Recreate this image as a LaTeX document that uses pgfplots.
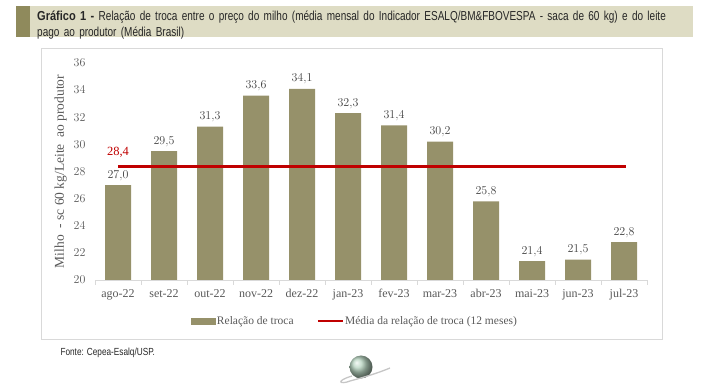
\documentclass[border=0pt]{standalone}
\usepackage{pgfplots}
\pgfplotsset{compat=1.18}
\usepackage{fontspec}
\setmainfont{Liberation Serif}
\newfontfamily\titlefont[FakeStretch=0.77]{Liberation Sans}
\newfontfamily\titlebold[FakeStretch=0.85]{Liberation Sans Bold}
\newfontfamily\footfont[FakeStretch=0.8]{Liberation Sans}
\definecolor{barcol}{HTML}{96916A}
\definecolor{avgred}{HTML}{C00000}
\definecolor{band}{HTML}{DEDCC4}
\definecolor{stripe}{HTML}{8F8A5C}
\definecolor{boxgray}{HTML}{D9D9D9}
\definecolor{txtgray}{HTML}{595959}
\definecolor{globe}{HTML}{B5D2BE}
\begin{document}
\begin{tikzpicture}[x=1pt,y=1pt]
\path[use as bounding box] (0,0) rectangle (706,387);
% title band
\fill[band] (16,350) rectangle (693,381);
\fill[stripe] (16,350) rectangle (30,381);
\node[anchor=north west, align=left, inner sep=0pt, text width=630pt, font=\titlefont\fontsize{13}{16}\selectfont, text=black!85]
  at (37,376) {{\titlebold Gráfico 1 -} Relação de troca entre o preço do milho (média mensal do Indicador ESALQ/BM\&FBOVESPA - saca de 60 kg) e do leite pago ao produtor (Média Brasil)};
% chart box
\draw[boxgray, line width=0.8pt] (41,48) rectangle (662,339);
% footer
\node[anchor=west, font=\footfont\fontsize{10.3}{11}\selectfont, text=black!85] at (57,34) {Fonte: Cepea-Esalq/USP.};
% logo
\shade[ball color=globe] (361,20) circle (11.5);
\draw[gray!45, line width=1.3pt] (352,11) .. controls (335,6) and (340,2) .. (350,6) .. controls (365,10) and (378,14) .. (390,19);
\begin{axis}[
  at={(95pt,107pt)}, anchor=south west,
  scale only axis, width=552pt, height=217pt,
  xmin=-0.5, xmax=11.5, ymin=20, ymax=36,
  ytick={20,22,...,36},
  xtick={0,...,11},
  xticklabels={ago-22,set-22,out-22,nov-22,dez-22,jan-23,fev-23,mar-23,abr-23,mai-23,jun-23,jul-23},
  minor xtick={-0.5,0.5,...,11.5},
  axis x line*=bottom, axis y line*=left,
  x axis line style={draw=boxgray, line width=0.8pt, -},
  y axis line style={draw=none},
  major tick length=0pt, minor tick length=5pt,
  tick align=outside,
  minor tick style={boxgray, line width=0.8pt},
  tick label style={font=\fontsize{12}{14}\selectfont, text=txtgray},
  xticklabel style={yshift=-6pt},
  yticklabel style={xshift=-6pt},
  /pgf/number format/use comma,
  ylabel={Milho \ - sc 60 kg/Leite \ ao produtor},
  ylabel style={font=\fontsize{13.5}{15}\selectfont, text=txtgray},
  legend style={at={(0.470,-0.19)}, anchor=center, legend columns=2, draw=none, fill=none,
    font=\fontsize{11.5}{14}\selectfont, text=txtgray,
    nodes={inner sep=1pt},
    /tikz/every even column/.append style={column sep=22pt}},
  legend cell align=left,
  clip=false,
]
\addplot[ybar, bar width=26pt, fill=barcol, draw=none,
  legend image code/.code={\fill[barcol] (0pt,-3.5pt) rectangle (25pt,3.5pt);},
  nodes near coords={\pgfmathprintnumber[fixed,fixed zerofill,precision=1,use comma]{\pgfplotspointmeta}},
  nodes near coords style={font=\fontsize{12.5}{14}\selectfont, text=black!75, yshift=1pt}]
  coordinates {(0,27.0) (1,29.5) (2,31.3) (3,33.6) (4,34.1) (5,32.3) (6,31.4) (7,30.2) (8,25.8) (9,21.4) (10,21.5) (11,22.8)};
\addlegendentry{Relação de troca}
\addplot[avgred, line width=3pt, mark=none,
  legend image code/.code={\draw[avgred, line width=2.5pt] (0pt,0pt) -- (25pt,0pt);}]
  coordinates {(0,28.4) (11.05,28.4)};
\addlegendentry{Média da relação de troca (12 meses)}
\node[text=avgred, font=\fontsize{12.5}{14}\selectfont, anchor=south] at (axis cs:0,28.75) {28,4};
\end{axis}
\end{tikzpicture}
\end{document}
